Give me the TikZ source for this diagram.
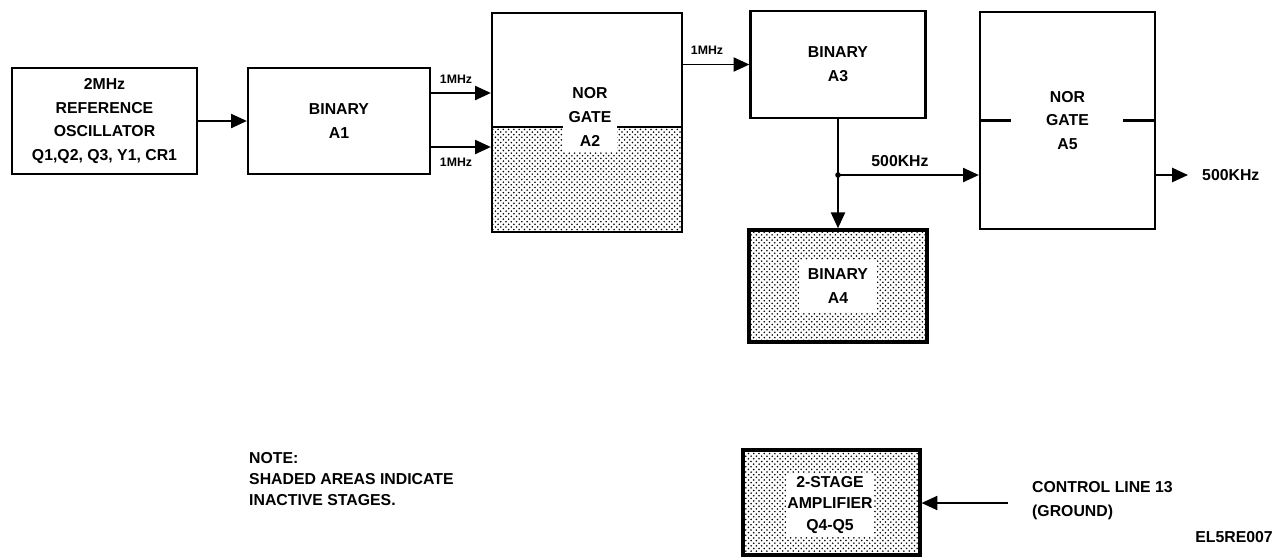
\documentclass[tikz,border=0pt]{standalone}
\usepackage{fontspec}
\setmainfont{Liberation Sans}
\usetikzlibrary{arrows.meta,patterns}
\begin{document}
\begin{tikzpicture}[x=0.02cm, y=-0.02cm,
  every node/.style={font=\bfseries\fontsize{9}{13.6}\selectfont},
  box/.style={draw,line width=1.3pt,align=center,inner sep=0pt},
  inactive/.style={pattern=crosshatch dots,pattern color=black},
  txt/.style={fill=white,align=center,inner sep=3pt},
  sig/.style={line width=1.1pt,-{Triangle[length=9pt,width=8pt]}},
  lbl/.style={font=\bfseries\fontsize{7}{8}\selectfont}]
\useasboundingbox (0,0) rectangle (1286,559);
\node[box,minimum width=3.70cm,minimum height=2.12cm] (osc) at (104.5,121) {2MHz\\REFERENCE\\OSCILLATOR\\Q1,Q2, Q3, Y1, CR1};
\node[box,minimum width=3.64cm,minimum height=2.12cm] (a1) at (339,121) {BINARY\\A1};
\fill[inactive] (492,127) rectangle (682,232);
\draw[line width=1.3pt] (492,127) -- (682,127);
\node[box,minimum width=3.80cm,minimum height=4.38cm] (a2) at (587,122.5) {};
\node[txt] (a2t) at (590,117) {NOR\\GATE\\A2};
\node[box,minimum width=3.50cm,minimum height=2.14cm] (a3) at (838,64.5) {BINARY\\A3};
\node[box,inactive,line width=2pt,minimum width=3.56cm,minimum height=2.24cm] (a4) at (838,286) {};
\node[txt,inner sep=5pt] (a4t) at (a4) {BINARY\\A4};
\node[box,minimum width=3.50cm,minimum height=4.34cm] (a5) at (1067.5,120.5) {NOR\\GATE\\A5};
\draw[line width=1.3pt] (a5.west) -- ++(32,0);
\draw[line width=1.3pt] (a5.east) -- ++(-33,0);
\node[box,inactive,line width=1.8pt,minimum width=3.54cm,minimum height=2.10cm] (amp) at (831.5,502.5) {};
\node[txt,inner sep=1pt,font=\bfseries\fontsize{9}{12.4}\selectfont] (ampt) at (830,505) {2-STAGE\\AMPLIFIER\\Q4-Q5};
\coordinate (in1) at (460,93);
\coordinate (in2) at (460,147);
\coordinate (jn) at (838,175);
\coordinate (out) at (1188,175);
\coordinate (ctl) at (1008,503);
\draw[sig] (osc) -- (a1);
\draw[sig] (a1.east |- in1) -- (a2.west |- in1);
\draw[sig] (a1.east |- in2) -- (a2.west |- in2);
\draw[sig] (a2.east |- a3.west) -- (a3.west);
\draw[line width=1.1pt] (a3.south) -- (jn);
\draw[sig] (jn) -- (a4.north);
\draw[sig] (jn) -- (a5.west |- jn);
\fill (jn) circle[radius=1.6pt];
\draw[sig] (a5.east |- jn) -- (out);
\draw[sig] (ctl) -- (amp.east |- ctl);
\node[lbl] (f1) at (456,79) {1MHz};
\node[lbl] (f2) at (456,162) {1MHz};
\node[lbl] (f3) at (707,50) {1MHz};
\node (f4) at (900,161) {500KHz};
\node[anchor=west] (outl) at (1196,175) {500KHz};
\node[anchor=west,align=left] (ctll) at (1026,501) {CONTROL LINE 13\\(GROUND)};
\node[anchor=north west,align=left,font=\bfseries\fontsize{9}{12}\selectfont] (note) at (243,446) {NOTE:\\SHADED AREAS INDICATE\\INACTIVE STAGES.};
\node (ref) at (1234,537) {EL5RE007};
\end{tikzpicture}
\end{document}
